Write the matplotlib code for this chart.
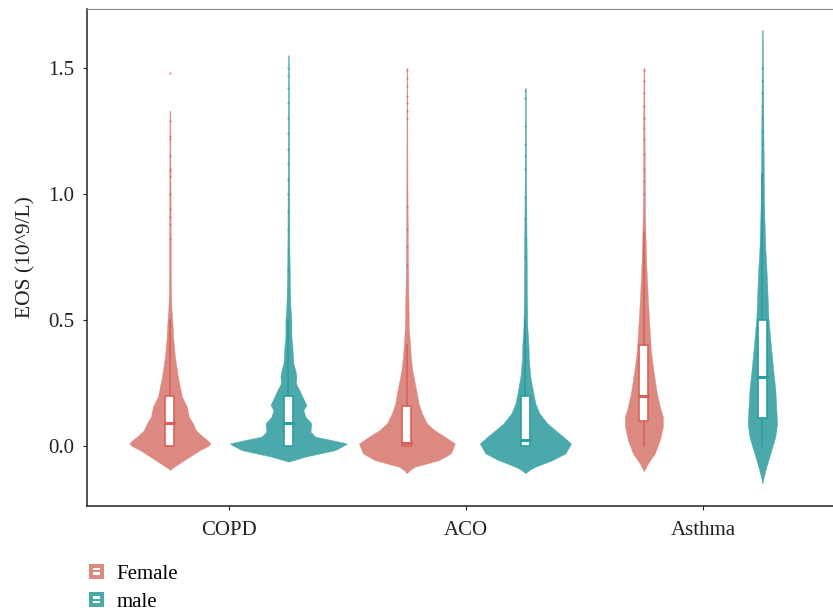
import numpy as np
import matplotlib
matplotlib.use("Agg")
import matplotlib.pyplot as plt
from matplotlib.patches import Rectangle, Patch
from matplotlib.legend_handler import HandlerBase

plt.rcParams["font.family"] = ["Liberation Serif", "DejaVu Serif"]

# ---- data ----
groups = ["COPD", "ACO", "Asthma"]
sexes = ["Female", "male"]

# violin outlines: (EOS value, half width in original-pixel units)
copd_f_y = [-0.095, -0.085, -0.075, -0.049, -0.016, 0.0, 0.01, 0.022, 0.037, 0.063, 0.09, 0.116, 0.156,
            0.196, 0.235, 0.275, 0.354, 0.42, 0.49, 0.55, 0.62, 0.9, 1.33]
copd_f_w = [0, 3, 7, 17, 30, 38, 40.7, 38, 33, 26, 23, 19, 17,
            12, 10, 8, 5, 3.5, 2.5, 1.5, 1.0, 0.7, 0.4]
copd_m_y = [-0.062, -0.055, -0.042, -0.016, 0.01, 0.024, 0.037, 0.057, 0.09, 0.116, 0.143, 0.163, 0.196,
            0.222, 0.249, 0.275, 0.3, 0.328, 0.354, 0.394, 0.434, 0.5, 0.553, 0.647, 0.778, 1.1, 1.55]
copd_m_w = [0, 6, 17, 47, 59, 43, 27, 22, 23, 17, 15, 18, 14,
            11, 7.5, 8, 7, 5, 4.5, 4, 3, 3, 2, 1.5, 1.0, 0.7, 0.4]
aco_f_y = [-0.108, -0.095, -0.082, -0.056, -0.029, 0.01, 0.037, 0.063, 0.09, 0.13, 0.169, 0.209,
           0.249, 0.3, 0.354, 0.407, 0.473, 0.6, 0.74, 1.0, 1.5]
aco_f_w = [0, 3, 8, 32, 44, 48, 38, 27.5, 20, 15, 11.7, 10,
           8, 5.5, 4, 3, 2, 1.5, 1.0, 0.6, 0.3]
aco_m_y = [-0.108, -0.095, -0.082, -0.056, -0.029, 0.01, 0.037, 0.063, 0.09, 0.13, 0.169, 0.209,
           0.275, 0.341, 0.407, 0.47, 0.6, 0.74, 1.0, 1.42]
aco_m_w = [0, 4, 10, 27, 40, 45.7, 38, 30, 22, 14, 10, 8,
           5, 3.5, 3, 2, 1.5, 1.3, 0.8, 0.4]
asthma_f_y = [-0.1, -0.085, -0.069, -0.029, 0.024, 0.077, 0.116, 0.156, 0.209, 0.262, 0.315, 0.38,
              0.447, 0.513, 0.58, 0.646, 0.711, 0.778, 0.844, 0.976, 1.2, 1.5]
asthma_f_w = [0, 2, 4, 11, 16, 19, 19, 16, 13, 11, 9, 7,
              6, 5, 4, 3.3, 2.5, 2, 1.5, 1.0, 0.7, 0.4]
asthma_m_y = [-0.148, -0.12, -0.082, -0.016, 0.037, 0.09, 0.143, 0.222, 0.315, 0.407, 0.513, 0.619,
              0.711, 0.778, 0.91, 1.04, 1.17, 1.4, 1.65]
asthma_m_w = [0, 1.5, 4, 9, 13, 14.7, 14, 13, 10.5, 8.3, 6, 5,
              4, 3, 2, 1.5, 1.2, 0.8, 0.4]

violin_y = {("COPD", "Female"): copd_f_y, ("COPD", "male"): copd_m_y,
            ("ACO", "Female"): aco_f_y, ("ACO", "male"): aco_m_y,
            ("Asthma", "Female"): asthma_f_y, ("Asthma", "male"): asthma_m_y}
violin_w = {("COPD", "Female"): copd_f_w, ("COPD", "male"): copd_m_w,
            ("ACO", "Female"): aco_f_w, ("ACO", "male"): aco_m_w,
            ("Asthma", "Female"): asthma_f_w, ("Asthma", "male"): asthma_m_w}

# box stats, order COPD-F, COPD-M, ACO-F, ACO-M, Asthma-F, Asthma-M
box_low = [0.0, 0.0, 0.0, 0.0, 0.0, 0.0]
box_q1 = [0.0, 0.0, 0.0, 0.0, 0.10, 0.11]
box_med = [0.09, 0.09, 0.013, 0.024, 0.20, 0.275]
box_q3 = [0.20, 0.20, 0.16, 0.20, 0.40, 0.50]
box_high = [0.50, 0.50, 0.40, 0.50, 0.85, 1.08]

# outlying points visible along the tails
outliers = {
    ("COPD", "Female"): [0.82, 0.88, 0.91, 0.94, 1.0, 1.07, 1.09, 1.10, 1.15, 1.22, 1.23, 1.29, 1.48],
    ("COPD", "male"): [0.7, 0.78, 0.86, 0.93, 1.0, 1.06, 1.12, 1.18, 1.24, 1.3, 1.36, 1.42, 1.47, 1.5],
    ("ACO", "Female"): [0.72, 0.79, 0.86, 0.95, 1.3, 1.33, 1.36, 1.39, 1.43, 1.46, 1.49],
    ("ACO", "male"): [0.75, 0.82, 0.9, 0.99, 1.1, 1.15, 1.2, 1.27, 1.38, 1.41],
    ("Asthma", "Female"): [1.0, 1.05, 1.1, 1.16, 1.22, 1.26, 1.3, 1.35, 1.4, 1.45, 1.49],
    ("Asthma", "male"): [1.2, 1.25, 1.3, 1.35, 1.4, 1.45, 1.5],
}

fill_col = {"Female": "#DC8A81", "male": "#4BA9AC"}
line_col = {"Female": "#D4645B", "male": "#2C9DA0"}

PX = 237.0  # original pixels per category step
dodge = 0.25
box_half = 4.5 / PX

fig = plt.figure(figsize=(8.33, 6.11), dpi=100)
ax = fig.add_axes([0.1044, 0.1718, 0.8956, 0.8135])

k = 0
for gi, g in enumerate(groups):
    for si, s in enumerate(sexes):
        cx = gi + 1 + (-dodge if s == "Female" else dodge)
        yy = np.array(violin_y[(g, s)])
        ww = np.array(violin_w[(g, s)]) / PX
        grid = np.linspace(yy.min(), yy.max(), 600)
        hw = np.interp(grid, yy, ww)
        ax.fill_betweenx(grid, cx - hw, cx + hw, color=fill_col[s], lw=0.3,
                         edgecolor=fill_col[s], zorder=2)
        ol = outliers[(g, s)]
        ax.plot([cx] * len(ol), ol, ls="none", marker="o", ms=1.6,
                color=line_col[s], alpha=0.7, mew=0, zorder=3)
        lc = line_col[s]
        ax.plot([cx, cx], [box_q3[k], box_high[k]], color=lc, lw=1.2, zorder=3)
        ax.plot([cx, cx], [box_low[k], box_q1[k]], color=lc, lw=1.2, zorder=3)
        ax.add_patch(Rectangle((cx - box_half, box_q1[k]), 2 * box_half, box_q3[k] - box_q1[k],
                               facecolor="white", edgecolor=lc, lw=1.2, zorder=4))
        ax.plot([cx - box_half, cx + box_half], [box_med[k]] * 2, color=lc, lw=2.2, zorder=5)
        k += 1

ax.set_xlim(0.4, 3.548)
ax.set_ylim(-0.238, 1.734)
ax.set_xticks([1, 2, 3])
ax.set_xticklabels(groups)
ax.set_yticks([0, 0.5, 1.0, 1.5])
ax.set_yticklabels(["0.0", "0.5", "1.0", "1.5"])
ax.tick_params(labelsize=15, colors="#222222", length=3, width=0.8)
ax.tick_params(axis="x", pad=8)
ax.tick_params(axis="y", pad=6)
ax.set_ylabel("EOS (10^9/L)", fontsize=15.5, color="#222222", labelpad=9)
for sp in ["left", "bottom"]:
    ax.spines[sp].set_color("#333333")
    ax.spines[sp].set_linewidth(1.2)
ax.spines["top"].set_color("#888888")
ax.spines["top"].set_linewidth(0.8)
ax.spines["right"].set_visible(False)


class BoxKey(HandlerBase):
    def create_artists(self, legend, orig_handle, xdescent, ydescent, width, height, fontsize, trans):
        col = orig_handle.get_facecolor()
        sz = min(width, height)
        x0 = -xdescent + (width - sz) / 2
        y0 = -ydescent + (height - sz) / 2
        bg = Rectangle((x0, y0), sz, sz, facecolor=col, edgecolor="none", transform=trans)
        b1 = Rectangle((x0 + 0.26 * sz, y0 + 0.26 * sz), 0.48 * sz, 0.17 * sz,
                       facecolor="white", edgecolor="none", transform=trans)
        b2 = Rectangle((x0 + 0.26 * sz, y0 + 0.57 * sz), 0.48 * sz, 0.17 * sz,
                       facecolor="white", edgecolor="none", transform=trans)
        return [bg, b1, b2]


handles = [Patch(facecolor=fill_col[s]) for s in sexes]
fig.legend(handles, sexes, loc="upper left", bbox_to_anchor=(0.107, 0.077),
           frameon=False, fontsize=15, handler_map={Patch: BoxKey()},
           handlelength=0.7, handleheight=0.7, handletextpad=0.6,
           labelspacing=0.42, borderpad=0, borderaxespad=0)

fig.savefig("out.png", dpi=100)
